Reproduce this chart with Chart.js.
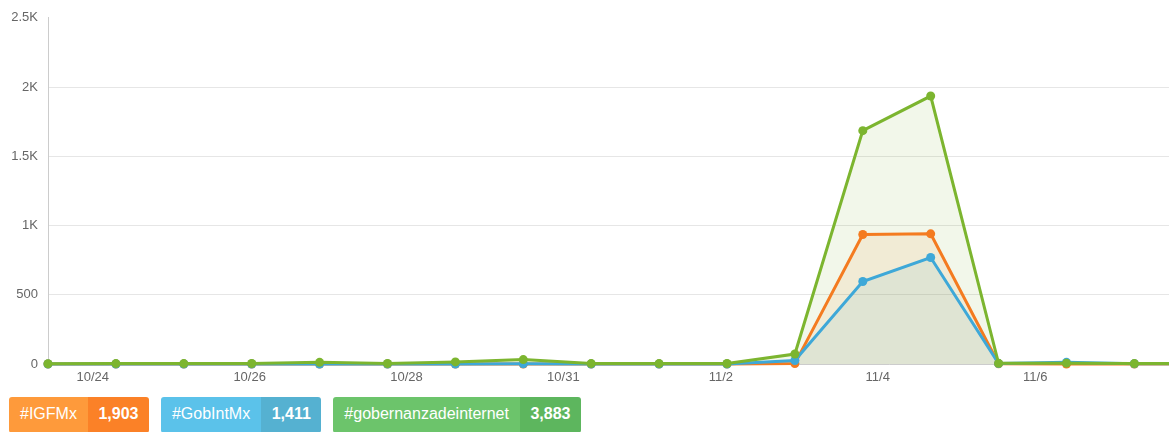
<!DOCTYPE html>
<html>
<head>
<meta charset="utf-8">
<script src="https://cdn.jsdelivr.net/npm/chart.js@4"></script>
<style>
  body { margin: 0; background: #fff; font-family: "Liberation Sans", Arial, sans-serif; }
  #wrap { position: relative; width: 1169px; height: 392px; }
  .badges { position: absolute; left: 9px; top: 397px; display: flex; gap: 12px; }
  .badge { display: flex; height: 36px; border-radius: 3px; overflow: hidden; color: #fff; font-size: 16px; line-height: 34px; }
  .badge span { padding: 0 11px; }
  .badge b { padding: 0 10.5px; }
</style>
</head>
<body>
<div id="wrap"><canvas id="myChart"></canvas></div>
<div class="badges" id="badges"></div>
<script>
const days = ['10/23', '10/24', '10/25', '10/26', '10/27', '10/28', '10/29', '10/30', '10/31',
    '11/1', '11/2', '11/3', '11/4', '11/5', '11/6', '11/7', '11/8', '11/9'];
const igfmx = [0, 0, 0, 0, 0, 0, 0, 0, 0, 0, 0, 3, 935, 940, 2, 0, 0, 0];
const gobintmx = [0, 0, 0, 0, 0, 0, 0, 2, 0, 0, 0, 25, 596, 769, 3, 12, 2, 2];
const gobernanza = [2, 3, 3, 4, 12, 4, 15, 32, 3, 3, 4, 72, 1685, 1935, 5, 6, 3, 4];
const totals = ['1,903', '1,411', '3,883'];
const tickLabels = ['10/24', '10/26', '10/28', '10/31', '11/2', '11/4', '11/6'];
const tickAt = [0.66, 2.97, 5.28, 7.59, 9.91, 12.22, 14.54];

const pts = (arr) => arr.map((v, i) => ({ x: i, y: v }));

const series = {
    gob: { label: '#gobernanzadeinternet', data: gobernanza, line: '#7cb52f', fill: 'rgba(124,181,47,0.1)' },
    igf: { label: '#IGFMx', data: igfmx, line: '#f47b20', fill: 'rgba(244,123,32,0.1)' },
    gim: { label: '#GobIntMx', data: gobintmx, line: '#3ea8d8', fill: 'rgba(62,168,216,0.1)' }
};

// first dataset is drawn on top
const drawOrder = ['gob', 'gim', 'igf'];

new Chart(document.getElementById('myChart'), {
    type: 'line',
    data: {
        datasets: drawOrder.map(k => series[k]).map(s => ({
            label: s.label,
            data: pts(s.data),
            borderColor: s.line,
            backgroundColor: s.fill,
            pointBackgroundColor: s.line,
            pointBorderColor: s.line,
            pointRadius: 4.5,
            pointBorderWidth: 0,
            borderWidth: 3,
            tension: 0,
            clip: false,
            fill: 'origin'
        }))
    },
    options: {
        responsive: true,
        maintainAspectRatio: false,
        animation: false,
        layout: { autoPadding: false, padding: { top: 16, right: 0, left: 0, bottom: 0 } },
        plugins: {
            legend: { display: false },
            tooltip: { enabled: false },
            filler: { drawTime: 'beforeDatasetsDraw' }
        },
        scales: {
            x: {
                type: 'linear',
                min: 0,
                max: 16.51,
                afterBuildTicks: (axis) => { axis.ticks = tickAt.map(v => ({ value: v })); },
                afterFit: (axis) => { axis.height = 28; },
                grid: { display: false, drawTicks: false },
                border: { color: '#ccc' },
                ticks: {
                    padding: 6,
                    autoSkip: false,
                    maxRotation: 0,
                    color: '#666',
                    font: { size: 13, family: 'Liberation Sans' },
                    callback: (v) => tickLabels[tickAt.indexOf(v)]
                }
            },
            y: {
                min: 0,
                max: 2500,
                afterFit: (axis) => { axis.width = 48; },
                grid: {
                    drawTicks: false,
                    color: (c) => c.tick && c.tick.value === 2500 ? 'rgba(0,0,0,0)' : '#e6e6e6'
                },
                border: { color: '#ccc' },
                ticks: {
                    stepSize: 500,
                    padding: 10,
                    color: '#666',
                    font: { size: 13, family: 'Liberation Sans' },
                    callback: (v) => v >= 1000 ? (v / 1000) + 'K' : v
                }
            }
        }
    }
});

const badgeColors = [['#fe9a3b', '#fb8127'], ['#5bc2ea', '#55b1d1'], ['#6cc46b', '#5db65e']];
const badgeOrder = ['igf', 'gim', 'gob'];
document.getElementById('badges').innerHTML = badgeOrder.map((k, i) =>
    `<div class="badge"><span style="background:${badgeColors[i][0]}">${series[k].label}</span>` +
    `<b style="background:${badgeColors[i][1]}">${totals[i]}</b></div>`).join('');
</script>
</body>
</html>
